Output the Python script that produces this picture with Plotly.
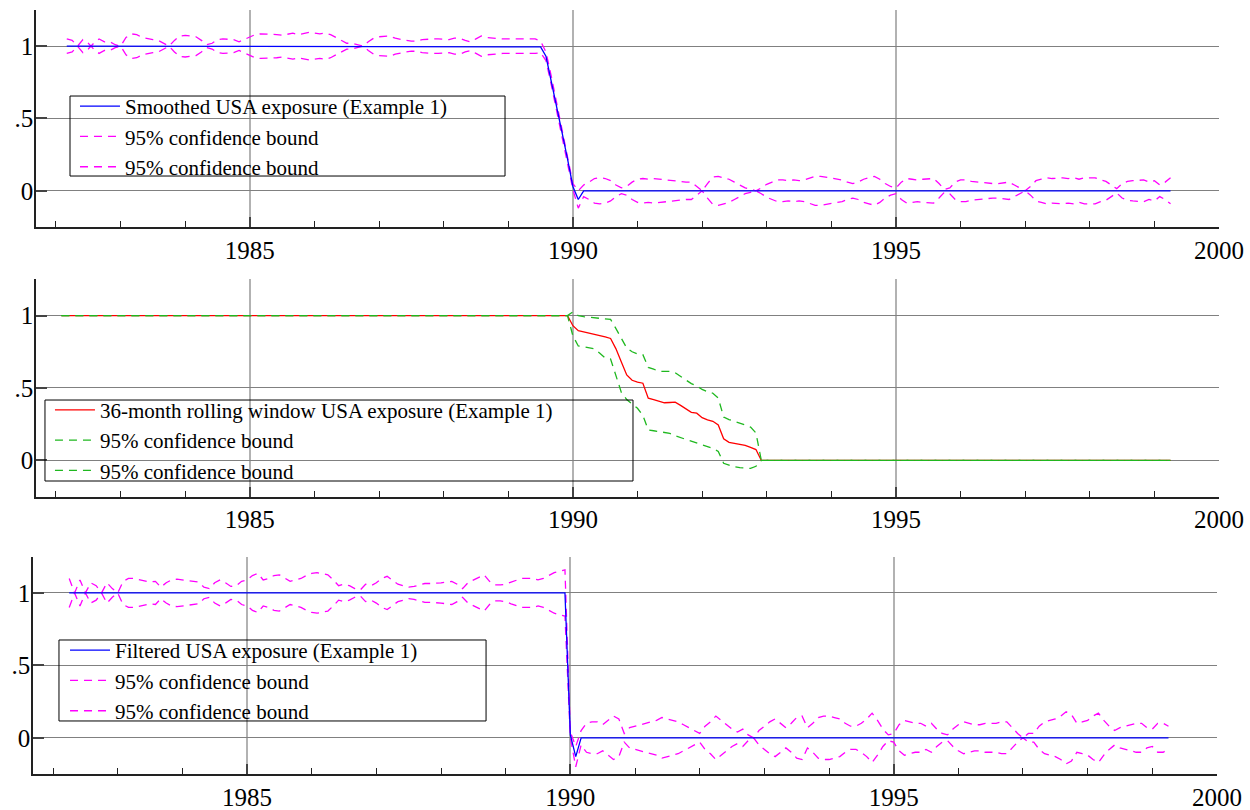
import plotly.graph_objects as go

# ---------------- data (monthly, decimal years) ----------------
# month index m: t = 1982 + (2 + m)/12  (m = 0 -> March 1982)
# Panel 1: smoothed exposure (m = 0..205) and half-width of 95% band
smooth_center = [1.0] * 88 + [0.995, 0.93, 0.76, 0.58, 0.40, 0.22, 0.03, -0.06] + [0.0] * 110
smooth_halfwidth = [
    .05, .04, .0, -.045, -.02, .02, .05, .03, .03, .01, .0, .06,
    .085, .08, .06, .05, .045, .04, .02, .0, .04, .07, .075, .07,
    .065, .04, .01, .02, .045, .05, .05, .045, .03, .045, .06, .08,
    .085, .085, .08, .08, .075, .085, .09, .08, .085, .095, .09, .085,
    .09, .08, .06, .04, .02, .02, .01, .0, .03, .055, .065, .07,
    .07, .055, .045, .04, .035, .035, .045, .05, .05, .05, .05, .045,
    .055, .055, .04, .03, .05, .07, .06, .055, .05, .05, .05, .05,
    .055, .055, .05, .05, .04, .03, .03, .03, .03, .03, .02, .06,
    .04, .06, .085, .09, .085, .07, .04, .02, .03, .06, .08, .085,
    .08, .085, .08, .075, .07, .07, .065, .06, .06, .03, .0, .05,
    .095, .1, .09, .08, .06, .04, .02, .01, .0, .02, .045, .06,
    .075, .075, .07, .075, .07, .075, .085, .1, .1, .095, .09, .08,
    .075, .06, .05, .06, .08, .09, .1, .08, .05, .03, .02, .06,
    .085, .08, .075, .08, .085, .085, .05, .01, .02, .06, .075, .075,
    .065, .06, .06, .055, .05, .05, .055, .06, .04, .02, .0, .03,
    .07, .08, .09, .085, .09, .09, .085, .09, .08, .09, .09, .09,
    .075, .065, .04, .015, .05, .065, .07, .07, .075, .06, .07, .04,
    .06, .09,
]

# Panel 2: 36-month rolling window (m = -1..205)
roll_center = [1.0] * 94 + [
    1.0, .93, .895, .888, .88, .873, .863, .852, .842, .77, .68, .59, .553,
    .54, .533, .43, .42, .41, .398, .40, .402, .38, .355, .332, .326, .295,
    .28, .27, .245, .15, .125, .117, .11, .104, .09, .075, .0] + [0.0] * 76
roll_upper = [1.0] * 94 + [
    1.0, 1.025, 1.0, .992, .989, .986, .983, .98, .973, .91, .84, .776, .75,
    .735, .73, .642, .63, .614, .614, .614, .605, .58, .557, .53, .515, .49,
    .475, .464, .43, .3, .282, .27, .26, .245, .23, .19, .0] + [0.0] * 76
roll_lower = [1.0] * 94 + [
    1.0, .86, .79, .785, .78, .77, .74, .707, .70, .58, .47, .42, .39,
    .36, .31, .21, .205, .2, .193, .187, .17, .158, .145, .13, .12, .106,
    .095, .083, .062, -.02, -.032, -.044, -.05, -.055, -.055, -.04, .0] + [0.0] * 76

# Panel 3: filtered exposure (m = 1..205) and half-width of 95% band
filt_center = [1.0] * 93 + [0.02, -0.13] + [0.0] * 110
filt_halfwidth = [
    .1, .0, .09, .0, .07, .05, .0, .07, .03, .0, .08, .1,
    .1, .09, .08, .075, .08, .04, .07, .09, .095, .09, .085, .08,
    .075, .04, .03, .07, .09, .07, .045, .05, .08, .09, .12, .135,
    .09, .1, .12, .125, .1, .08, .09, .1, .12, .135, .14, .13,
    .125, .09, .05, .06, .05, .03, .02, .06, .05, .07, .1, .115,
    .09, .06, .05, .04, .045, .055, .065, .065, .065, .07, .075, .08,
    .06, .03, .07, .09, .11, .125, .08, .055, .055, .06, .075, .09,
    .1, .1, .1, .09, .1, .12, .14, .15, .16, .02, .07, .05,
    .1, .11, .11, .09, .12, .15, .13, .03, .07, .08, .09, .1,
    .11, .12, .14, .13, .12, .11, .09, .07, .05, .03, .08, .11,
    .15, .12, .09, .06, .04, .06, .02, .0, .05, .08, .11, .13,
    .1, .07, .1, .14, .15, .07, .1, .14, .15, .15, .14, .13,
    .1, .08, .08, .1, .13, .17, .12, .06, .02, .03, .09, .12,
    .11, .1, .1, .08, .1, .06, .03, .02, .06, .09, .11, .1,
    .09, .09, .1, .1, .1, .11, .11, .07, .03, .0, .03, .03,
    .08, .11, .12, .13, .15, .18, .16, .1, .11, .12, .15, .17,
    .12, .08, .05, .07, .08, .09, .1, .1, .07, .06, .1, .1,
    .08,
]

x_ticks = [1985, 1990, 1995, 2000]
x_ticktext = ["1985", "1990", "1995", "2000"]
y_ticks = [0, 0.5, 1]
y_ticktext = ["0", ".5", "1"]

labels1 = ["Smoothed USA exposure (Example 1)", "95% confidence bound", "95% confidence bound"]
labels2 = ["36-month rolling window USA exposure (Example 1)", "95% confidence bound", "95% confidence bound"]
labels3 = ["Filtered USA exposure (Example 1)", "95% confidence bound", "95% confidence bound"]


def months(start, n):
    return [1982 + (2 + start + i) / 12 for i in range(n)]


x1 = months(0, len(smooth_center))
x2 = months(-1, len(roll_center))
x3 = months(1, len(filt_center))

s_up = [c + d for c, d in zip(smooth_center, smooth_halfwidth)]
s_lo = [c - d for c, d in zip(smooth_center, smooth_halfwidth)]
f_up = [c + d for c, d in zip(filt_center, filt_halfwidth)]
f_lo = [c - d for c, d in zip(filt_center, filt_halfwidth)]

BLUE = "#0000ff"
MAG = "#ff00ff"
RED = "#ff0000"
GREEN = "#1fb81f"
DASH = "8px,6px"
FONT = "Liberation Serif"
LW = 1.3

fig = go.Figure()

# Panel 1
fig.add_trace(go.Scatter(x=x1, y=s_up, mode="lines", name=labels1[1], legend="legend",
                         legendrank=2, line=dict(color=MAG, width=LW, dash=DASH), xaxis="x", yaxis="y"))
fig.add_trace(go.Scatter(x=x1, y=s_lo, mode="lines", name=labels1[2], legend="legend",
                         legendrank=3, line=dict(color=MAG, width=LW, dash=DASH), xaxis="x", yaxis="y"))
fig.add_trace(go.Scatter(x=x1, y=smooth_center, mode="lines", name=labels1[0], legend="legend",
                         legendrank=1, line=dict(color=BLUE, width=LW), xaxis="x", yaxis="y"))

# Panel 2
fig.add_trace(go.Scatter(x=x2, y=roll_center, mode="lines", name=labels2[0], legend="legend2",
                         legendrank=1, line=dict(color=RED, width=LW), xaxis="x2", yaxis="y2"))
fig.add_trace(go.Scatter(x=x2, y=roll_upper, mode="lines", name=labels2[1], legend="legend2",
                         legendrank=2, line=dict(color=GREEN, width=LW, dash=DASH), xaxis="x2", yaxis="y2"))
fig.add_trace(go.Scatter(x=x2, y=roll_lower, mode="lines", name=labels2[2], legend="legend2",
                         legendrank=3, line=dict(color=GREEN, width=LW, dash=DASH), xaxis="x2", yaxis="y2"))

# Panel 3
fig.add_trace(go.Scatter(x=x3, y=f_up, mode="lines", name=labels3[1], legend="legend3",
                         legendrank=2, line=dict(color=MAG, width=LW, dash=DASH), xaxis="x3", yaxis="y3"))
fig.add_trace(go.Scatter(x=x3, y=f_lo, mode="lines", name=labels3[2], legend="legend3",
                         legendrank=3, line=dict(color=MAG, width=LW, dash=DASH), xaxis="x3", yaxis="y3"))
fig.add_trace(go.Scatter(x=x3, y=filt_center, mode="lines", name=labels3[0], legend="legend3",
                         legendrank=1, line=dict(color=BLUE, width=LW), xaxis="x3", yaxis="y3"))


def xaxis(domain, anchor):
    return dict(
        domain=domain, anchor=anchor, range=[1981.69, 2000.0],
        tickmode="array", tickvals=x_ticks, ticktext=x_ticktext,
        ticks="inside", ticklen=10, tickwidth=2, tickcolor="#444",
        showgrid=True, gridcolor="rgb(178,178,178)", gridwidth=2,
        showline=True, linecolor="#222", linewidth=1.5, zeroline=False,
        tickfont=dict(family=FONT, size=25, color="black"),
        ticklabelstandoff=0,
        minor=dict(tickmode="linear", tick0=1982, dtick=1, ticks="inside",
                   ticklen=6, tickwidth=1, tickcolor="#222", showgrid=False),
    )


def yaxis(domain, anchor):
    return dict(
        domain=domain, anchor=anchor, range=[-0.25, 1.25],
        tickmode="array", tickvals=y_ticks, ticktext=y_ticktext,
        ticks="inside", ticklen=11, tickwidth=2, tickcolor="#444",
        showgrid=True, gridcolor="rgb(128,128,128)", gridwidth=1,
        showline=True, linecolor="#222", linewidth=1.5, zeroline=False,
        tickfont=dict(family=FONT, size=25, color="black"),
        ticklabelstandoff=-4,
    )


def legend(x, y):
    return dict(x=x, y=y, xanchor="left", yanchor="top", bgcolor="rgba(0,0,0,0)",
                borderwidth=0, font=dict(family=FONT, size=21, color="black"),
                traceorder="normal", tracegroupgap=0, itemwidth=40)


def legend_box(x0, x1, y0, y1):
    return dict(type="rect", xref="paper", yref="paper", x0=x0, x1=x1, y0=y0, y1=y1,
                line=dict(color="black", width=1), fillcolor="rgba(0,0,0,0)", layer="above")


fig.update_layout(
    width=1250, height=810,
    margin=dict(l=33, r=31, t=10, b=36, autoexpand=False),
    paper_bgcolor="white", plot_bgcolor="white",
    xaxis=xaxis([0.0025, 1.0], "y"), yaxis=yaxis([0.716, 1.0], "x"),
    xaxis2=xaxis([0.0025, 1.0], "y2"), yaxis2=yaxis([0.363, 0.6475], "x2"),
    xaxis3=xaxis([0.0, 0.9983], "y3"), yaxis3=yaxis([0.0, 0.2844], "x3"),
    legend=legend(0.0354, 0.9005),
    legend2=legend(0.0143, 0.5030),
    legend3=legend(0.0270, 0.1885),
    shapes=[
        legend_box(0.0312, 0.398, 0.7827, 0.8874),
        legend_box(0.0101, 0.5059, 0.3835, 0.4895),
        legend_box(0.0219, 0.382, 0.0694, 0.1754),
    ],
    showlegend=True,
)

fig.write_html("out.html")
